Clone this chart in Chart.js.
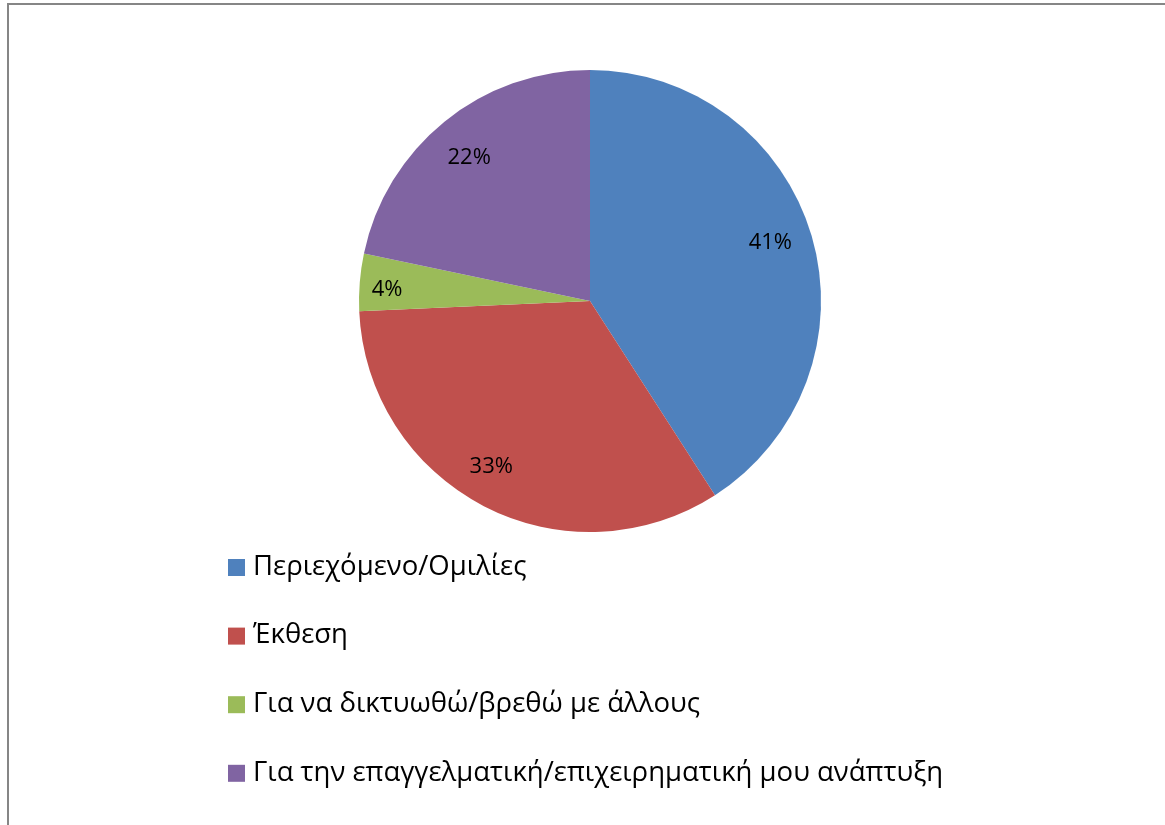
<!DOCTYPE html>
<html>
<head>
<meta charset="utf-8">
<script src="https://cdn.jsdelivr.net/npm/chart.js@4.4.1/dist/chart.umd.min.js"></script>
<style>
html,body{margin:0;padding:0;background:#fff;}
#wrap{position:relative;width:1165px;height:825px;}
</style>
</head>
<body>
<div id="wrap"><canvas id="c" width="1165" height="825"></canvas></div>
<script>
const categories = [
  "Περιεχόμενο/Ομιλίες",
  "Έκθεση",
  "Για να δικτυωθώ/βρεθώ με άλλους",
  "Για την επαγγελματική/επιχειρηματική μου ανάπτυξη"
];
const values = [40.9, 33.4, 4.0, 21.7];
const colors = ["#4F81BD", "#C0504D", "#9BBB59", "#8064A2"];

const FONT = "'Open Sans', 'Noto Sans', sans-serif";

const framePlugin = {
  id: 'frame',
  beforeDraw(chart) {
    const ctx = chart.ctx;
    ctx.save();
    ctx.fillStyle = '#fff';
    ctx.fillRect(0, 0, chart.width, chart.height);
    ctx.strokeStyle = '#868686';
    ctx.lineWidth = 2;
    ctx.beginPath();
    ctx.moveTo(8, 825);
    ctx.lineTo(8, 4);
    ctx.lineTo(1165, 4);
    ctx.stroke();
    ctx.restore();
  }
};

const labelPlugin = {
  id: 'pctLabels',
  afterDatasetsDraw(chart, args, opts) {
    const ctx = chart.ctx;
    const meta = chart.getDatasetMeta(0);
    const data = chart.data.datasets[0].data;
    const total = data.reduce((a, b) => a + b, 0);
    ctx.save();
    ctx.font = '22px ' + FONT;
    ctx.fillStyle = '#000';
    ctx.textAlign = 'center';
    ctx.textBaseline = 'middle';
    meta.data.forEach((arc, i) => {
      const p = arc.getProps(['x', 'y', 'startAngle', 'endAngle', 'outerRadius'], true);
      const mid = (p.startAngle + p.endAngle) / 2 + opts.shift[i];
      const f = opts.factors[i];
      const x = p.x + Math.cos(mid) * p.outerRadius * f;
      const y = p.y + Math.sin(mid) * p.outerRadius * f;
      ctx.fillText(Math.round(data[i] / total * 100) + '%', x, y);
    });
    ctx.restore();
  }
};

const legendPlugin = {
  id: 'vLegend',
  afterDraw(chart, args, opts) {
    const ctx = chart.ctx;
    const labels = chart.data.labels;
    const cols = chart.data.datasets[0].backgroundColor;
    ctx.save();
    ctx.font = '27.5px ' + FONT;
    ctx.textBaseline = 'middle';
    ctx.textAlign = 'left';
    labels.forEach((lab, i) => {
      const cy = opts.top + i * opts.step;
      ctx.fillStyle = cols[i];
      ctx.fillRect(opts.left, cy - 8, 17, 17);
      ctx.fillStyle = '#000';
      ctx.fillText(lab, opts.left + 25, cy);
    });
    ctx.restore();
  }
};

new Chart(document.getElementById('c'), {
  type: 'pie',
  data: {
    labels: categories,
    datasets: [{
      data: values,
      backgroundColor: colors,
      borderWidth: 0
    }]
  },
  options: {
    responsive: false,
    animation: false,
    layout: { padding: { left: 359, right: 344, top: 70, bottom: 293 } },
    plugins: {
      legend: { display: false },
      tooltip: { enabled: false },
      pctLabels: { factors: [0.82, 0.835, 0.88, 0.81], shift: [-0.025, 0.06, -0.025, -0.02] },
      vLegend: { left: 228, top: 567, step: 68.6 }
    }
  },
  plugins: [framePlugin, labelPlugin, legendPlugin]
});
</script>
</body>
</html>
